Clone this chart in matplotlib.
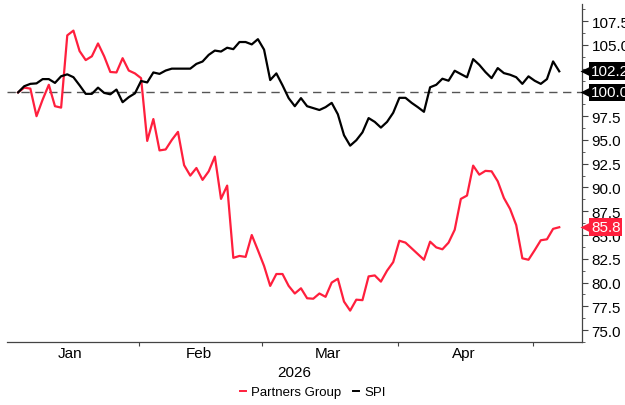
import numpy as np
import pandas as pd
import matplotlib
matplotlib.use("Agg")
import matplotlib.pyplot as plt
import matplotlib.transforms as mtransforms
from matplotlib.lines import Line2D

plt.rcParams["font.family"] = ["Liberation Sans", "DejaVu Sans"]

# trading days, rebased to 100 at the first date
dates = pd.bdate_range("2026-01-05", "2026-05-07")

partners_group = [
    100.0, 100.5, 100.4, 97.5, 99.25, 100.8, 98.55, 98.4, 106.0, 106.5,
    104.35, 103.4, 103.8, 105.15, 103.8, 102.15, 102.1, 103.6, 102.3, 102.0,
    101.5, 94.9, 97.2, 93.9, 94.0, 95.0, 95.85, 92.35, 91.25, 92.05,
    90.8, 91.7, 93.25, 88.8, 90.2, 82.6, 82.8, 82.7, 85.0, 83.4,
    81.75, 79.65, 80.9, 80.9, 79.65, 78.85, 79.4, 78.35, 78.3, 78.85,
    78.5, 80.0, 80.4, 78.0, 77.05, 78.2, 78.15, 80.65, 80.75, 80.1,
    81.25, 82.15, 84.4, 84.2, 83.6, 83.0, 82.4, 84.3, 83.7, 83.5,
    84.2, 85.55, 88.8, 89.15, 92.3, 91.35, 91.75, 91.7, 90.65, 88.9,
    87.75, 86.05, 82.55, 82.4, 83.4, 84.45, 84.55, 85.65, 85.82,
]

spi = [
    100.0, 100.65, 100.9, 100.95, 101.4, 101.4, 101.0, 101.7, 101.9, 101.6,
    100.75, 99.85, 99.85, 100.5, 99.95, 99.8, 100.3, 98.97, 99.5, 99.9,
    101.2, 101.05, 102.1, 101.95, 102.3, 102.5, 102.5, 102.5, 102.5, 103.0,
    103.25, 103.95, 104.4, 104.3, 104.7, 104.55, 105.3, 105.3, 105.05, 105.6,
    104.5, 101.3, 102.0, 100.75, 99.4, 98.55, 99.4, 98.55, 98.35, 98.15,
    98.45, 98.9, 97.7, 95.5, 94.4, 94.97, 95.8, 97.3, 96.9, 96.3,
    96.9, 97.86, 99.43, 99.43, 98.9, 98.45, 97.96, 100.54, 100.8, 101.44,
    101.23, 102.28, 101.93, 101.59, 103.5, 102.9, 102.14, 101.5, 102.56, 102.03,
    101.86, 101.6, 100.9, 101.69, 101.23, 100.9, 101.4, 103.26, 102.22,
]

months = ["Jan", "Feb", "Mar", "Apr"]
month_starts = ["2026-01-01", "2026-02-01", "2026-03-01", "2026-04-01", "2026-05-01"]
y_ticks = np.arange(75.0, 108.0, 2.5)

RED = "#ff1f3d"
BLACK = "#000000"

# x axis counts weekdays only (no weekend gaps)
x = np.busday_count("2026-01-01", dates.values.astype("datetime64[D]"))
starts = np.busday_count("2026-01-01", np.busday_offset(month_starts, 0, roll="forward"))
bounds = starts - 0.3
centers = (bounds[:-1] + bounds[1:]) / 2 - 0.3

fig = plt.figure(figsize=(6.25, 4.06), dpi=100)
ax = fig.add_axes([0.0112, 0.1552, 0.92, 0.8325])

ax.axhline(100, color="#555555", lw=1.0, ls=(0, (6, 4)), zorder=1)
ax.plot(x, partners_group, color=RED, lw=1.6, zorder=3)
ax.plot(x, spi, color=BLACK, lw=1.6, zorder=3)

ax.set_xlim(0.2, 93.7)
ax.set_ylim(74.0, 109.3)

for side in ("left", "top"):
    ax.spines[side].set_visible(False)
for side in ("right", "bottom"):
    ax.spines[side].set_color("#444444")
    ax.spines[side].set_linewidth(0.9)

ax.set_xticks(bounds[1:])
ax.set_xticklabels([])
ax.set_xticks(centers, minor=True)
ax.set_xticklabels(months, minor=True)
ax.tick_params(axis="x", which="major", direction="out", length=3, color="#444444")
ax.tick_params(axis="x", which="minor", length=0, pad=3, labelsize=11)

ax.yaxis.tick_right()
ax.set_yticks(y_ticks)
ax.set_yticklabels([f"{v:.1f}" for v in y_ticks])
ax.set_yticks(np.arange(73.75, 109.3, 1.25), minor=True)
ax.tick_params(axis="y", which="major", direction="out", length=4, pad=3,
               labelsize=11, color="#444444")
ax.tick_params(axis="y", which="minor", direction="out", length=2, color="#444444")

ax.text(0.5, -0.088, "2026", transform=ax.transAxes, ha="center", va="center", fontsize=11)

# last-value tags on the right axis
trans = mtransforms.blended_transform_factory(ax.transAxes, ax.transData)
tags = [(spi[-1], BLACK), (100.0, BLACK), (partners_group[-1], RED)]
for value, color in tags:
    ax.plot(1.006, value, marker="<", ms=7, color=color, mec="none",
            transform=trans, clip_on=False, zorder=6)
    ax.annotate(f"{value:.1f}", xy=(1, value), xycoords=trans,
                xytext=(6.5, 0), textcoords="offset points", ha="left", va="center",
                fontsize=11, color="white", zorder=6, annotation_clip=False,
                bbox=dict(boxstyle="square,pad=0.12", fc=color, ec="none"))

handles = [Line2D([], [], color=RED, lw=1.4), Line2D([], [], color=BLACK, lw=1.4)]
fig.legend(handles, ["Partners Group", "SPI"], loc="center", bbox_to_anchor=(0.5, 0.032),
           ncol=2, frameon=False, handlelength=0.5, handletextpad=0.35,
           columnspacing=0.9, fontsize=9.5)

fig.savefig("out.png", dpi=100)
